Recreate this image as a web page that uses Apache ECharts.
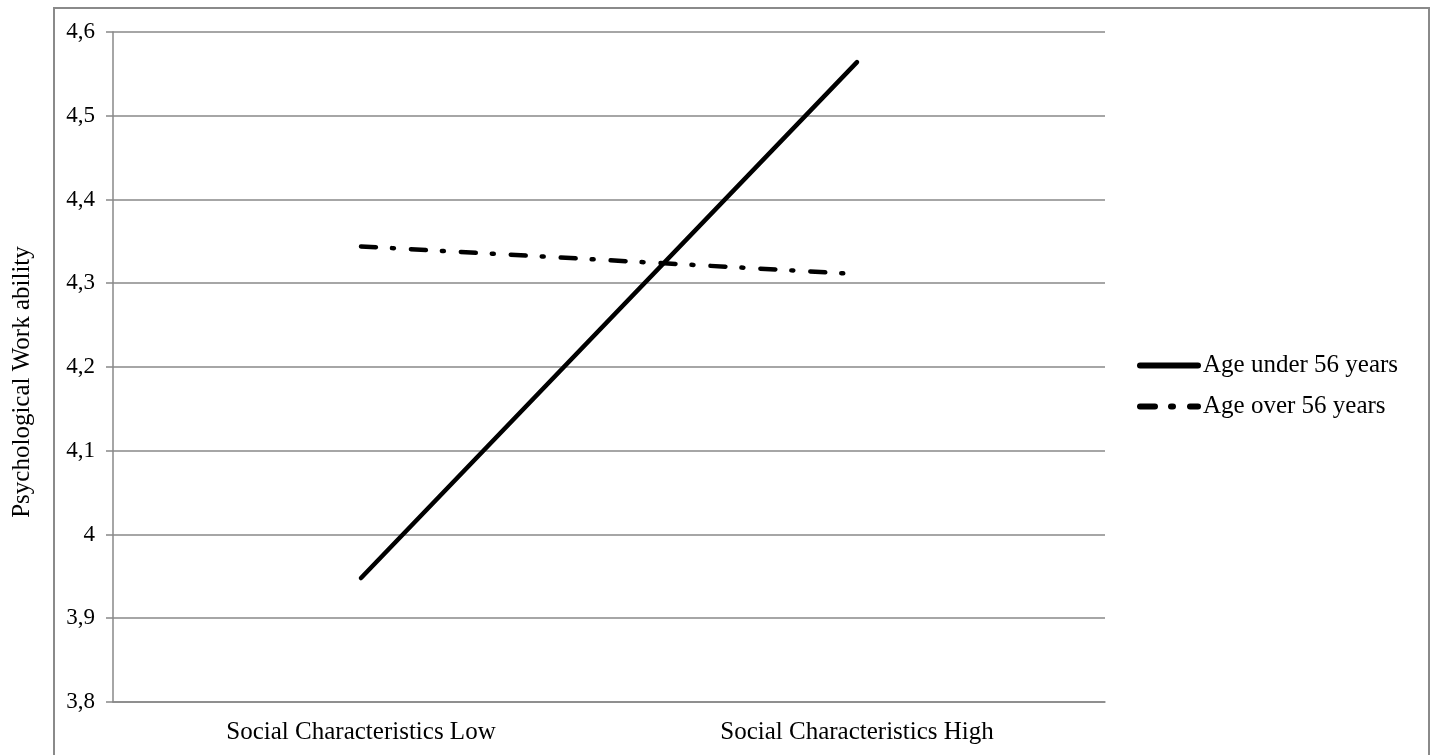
<!DOCTYPE html>
<html>
<head>
<meta charset="utf-8">
<script src="https://cdn.jsdelivr.net/npm/echarts@6/dist/echarts.min.js"></script>
<style>
html,body{margin:0;padding:0;background:#fff;}
#chart{width:1432px;height:755px;}
</style>
</head>
<body>
<div id="chart"></div>
<script>
const categories = ['Social Characteristics Low', 'Social Characteristics High'];
const seriesNames = ['Age under 56 years', 'Age over 56 years'];
const underValues = [3.948, 4.564];
const overValues = [4.344, 4.311];
const yTicks = [3.8, 3.9, 4.0, 4.1, 4.2, 4.3, 4.4, 4.5, 4.6];

const chart = echarts.init(document.getElementById('chart'));
const font = 'Liberation Serif';
chart.setOption({
  backgroundColor: '#fff',
  animation: false,
  graphic: [{
    type: 'rect', shape: {x: 54, y: 8, width: 1375, height: 760},
    style: {fill: 'none', stroke: '#8a8a8a', lineWidth: 2}, silent: true, z: -1
  }],
  grid: {left: 113, right: 327, top: 32, bottom: 53, containLabel: false, outerBoundsMode: 'none'},
  legend: {
    orient: 'vertical', left: 1132, top: 348, itemGap: 16, itemWidth: 58, itemHeight: 28,
    data: seriesNames,
    itemStyle: {opacity: 0},
    lineStyle: {width: 6},
    textStyle: {fontFamily: font, fontSize: 25, color: '#000', padding: [0,0,0,0]}
  },
  xAxis: {
    type: 'category', data: categories, boundaryGap: true,
    axisLine: {lineStyle: {color: '#888', width: 1.5}},
    axisTick: {length: 8, lineStyle: {color: '#888', width: 1.5}},
    axisLabel: {fontFamily: font, fontSize: 25, color: '#000', margin: 18}
  },
  yAxis: {
    type: 'value', min: 3.8, max: 4.6, interval: 0.1,
    name: 'Psychological Work ability', nameLocation: 'middle', nameGap: 78,
    nameTextStyle: {fontFamily: font, fontSize: 25, color: '#000', padding: [0, 30, 0, 0]},
    axisLine: {show: true, lineStyle: {color: '#888', width: 1.5}},
    axisTick: {show: true, length: 7, lineStyle: {color: '#888', width: 1.5}},
    splitLine: {lineStyle: {color: '#888', width: 1.5}},
    axisLabel: {fontFamily: font, fontSize: 23, color: '#000', margin: 18,
      formatter: v => String(Math.round(v * 10) / 10).replace('.', ',')}
  },
  series: [
    {name: seriesNames[0], type: 'line', data: underValues, showSymbol: false, symbol: 'none',
      lineStyle: {color: '#000', width: 4.5, cap: 'round'}, itemStyle: {color: '#000'}},
    {name: seriesNames[1], type: 'line', data: overValues, showSymbol: false, symbol: 'none',
      lineStyle: {color: '#000', width: 4.5, type: [15, 16, 2, 17], cap: 'round'}, itemStyle: {color: '#000'}}
  ]
});
</script>
</body>
</html>
